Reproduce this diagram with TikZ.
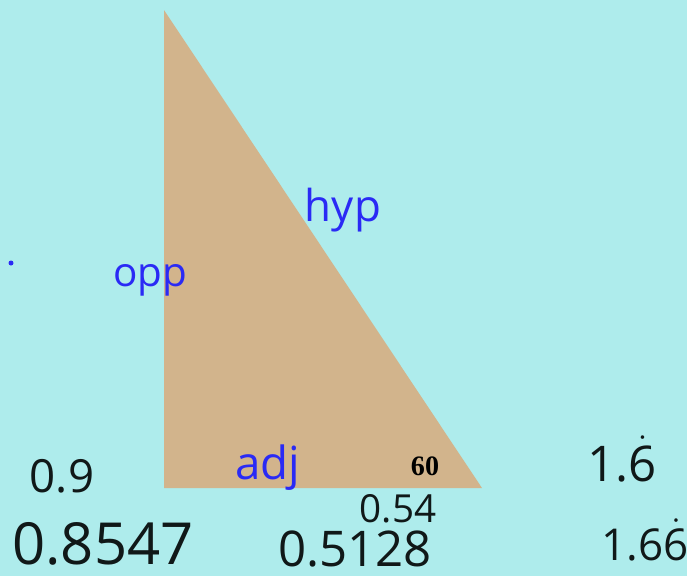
\documentclass[tikz,border=0pt]{standalone}
\usepackage{amsmath}
\usepackage{fontspec}
\setmainfont{Open Sans}
\newfontfamily\numfont{Liberation Serif}
\usepackage{tikz}
\usetikzlibrary{positioning}
\usepackage{xcolor}

\definecolor{skyback}{HTML}{AEECEC}
\definecolor{tanfill}{HTML}{D2B48C}
\definecolor{penblue}{HTML}{2A2AF5}
\definecolor{penblack}{HTML}{101818}

\begin{document}
\begin{tikzpicture}[x=0.02cm, y=-0.02cm,
    sidelabel/.style={inner sep=0pt, text=penblue, font=\fontsize{23}{23}\selectfont},
    numlabel/.style={inner sep=0pt, text=penblack, font=\fontsize{22}{22}\selectfont},
    biglabel/.style={inner sep=0pt, text=penblack, font=\fontsize{28}{28}\selectfont}]
    % Background
    \fill[skyback] (0,0) rectangle (687,576);
    \useasboundingbox (0,0) rectangle (687,576);

    % Define the vertices
    \coordinate (top) at (164,10);
    \coordinate (corner) at (164,488);
    \coordinate (base) at (482,488);

    % The triangle
    \fill[tanfill] (top) -- (corner) -- (base) -- cycle;

    % Side names
    \node[sidelabel] (opp) at (150,280) {opp};
    \node[sidelabel, font=\fontsize{25}{25}\selectfont] (hyp) at (343,210) {hyp};
    \node[sidelabel, font=\fontsize{26}{26}\selectfont] (adj) at (268,468) {adj};

    % Angle
    \node[inner sep=0pt, font=\numfont\bfseries\fontsize{16}{16}\selectfont] (angle) at (425,466) {60};

    % Values
    \node[numlabel, font=\fontsize{26}{26}\selectfont] (sinval) at (62,476) {0.9};
    \node[biglabel, font=\fontsize{33}{33}\selectfont] (sinlong) at (103,544) {0.8547};
    \node[numlabel] (cosval) at (398,509) {0.54};
    \node[biglabel] (coslong) at (355,549) {0.5128};
    \node[biglabel] (tanval) at (622,459) {1.$\dot{\text{6}}$};
    \node[numlabel, font=\fontsize{25}{25}\selectfont] (tanlong) at (645,540) {1.6$\dot{\text{6}}$};

    % Stray dot
    \fill[penblue] (11,263) circle (2.5);
\end{tikzpicture}
\end{document}
